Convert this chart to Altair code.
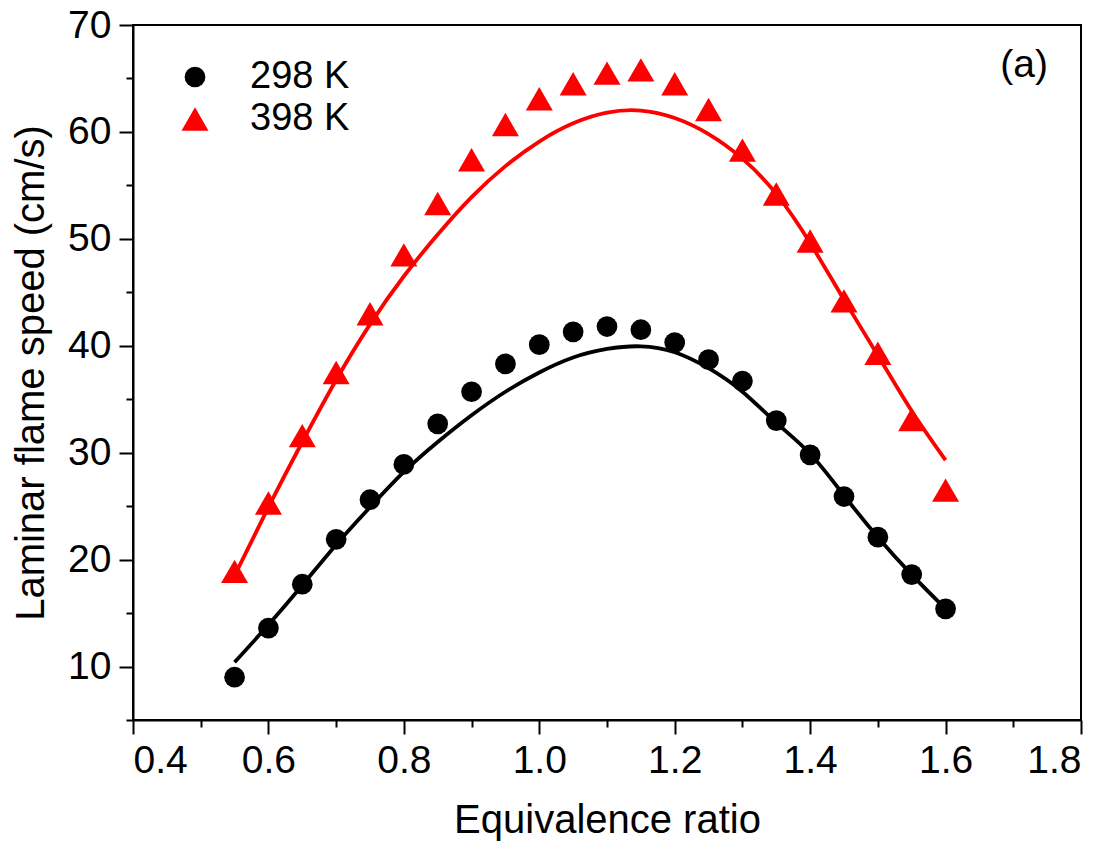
import altair as alt
import pandas as pd

# measured data points
phi = [0.55, 0.60, 0.65, 0.70, 0.75, 0.80, 0.85, 0.90, 0.95, 1.00, 1.05,
       1.10, 1.15, 1.20, 1.25, 1.30, 1.35, 1.40, 1.45, 1.50, 1.55, 1.60]
su_298 = [9.0, 13.6, 17.7, 21.9, 25.6, 28.9, 32.7, 35.7, 38.3, 40.1, 41.3,
          41.8, 41.5, 40.3, 38.7, 36.7, 33.0, 29.8, 25.9, 22.1, 18.6, 15.4]
su_398 = [18.9, 25.3, 31.6, 37.5, 43.0, 48.5, 53.3, 57.4, 60.7, 63.1, 64.5,
          65.5, 65.8, 64.5, 62.1, 58.3, 54.2, 49.8, 44.2, 39.3, 33.1, 26.5]

# fitted curves
fit_298 = [10.4, 13.9, 17.6, 21.4, 24.9, 28.2, 31.0, 33.5, 35.7, 37.5, 38.9,
           39.7, 39.95, 39.4, 37.9, 35.7, 32.8, 29.9, 26.0, 22.1, 18.6, 15.4]
fit_398 = [18.5, 24.9, 31.0, 36.8, 42.0, 46.5, 50.4, 53.9, 56.8, 59.1, 60.8,
           61.8, 62.0, 61.3, 59.8, 57.5, 54.2, 49.6, 44.3, 39.1, 33.9, 29.3]

series = ["298 K", "398 K"]
colors = ["#000000", "#ff0000"]
shapes = ["circle", "triangle-up"]
sizes = [430, 730]

ann_x = [1.716]
ann_y = [66.3]
ann_text = ["(a)"]

FONT = "Liberation Sans"

pts = pd.DataFrame({
    "phi": phi * 2,
    "su": su_298 + su_398,
    "series": [series[0]] * len(phi) + [series[1]] * len(phi),
})
fits = pd.DataFrame({
    "phi": phi * 2,
    "su": fit_298 + fit_398,
    "series": [series[0]] * len(phi) + [series[1]] * len(phi),
})
ann = pd.DataFrame({"x": ann_x, "y": ann_y, "t": ann_text})

xscale = alt.Scale(domain=[0.4, 1.8], nice=False, zero=False)
yscale = alt.Scale(domain=[5, 70], nice=False, zero=False)

xaxis = alt.Axis(
    title="Equivalence ratio",
    values=[round(0.4 + 0.1 * i, 1) for i in range(15)],
    labelExpr="(round(datum.value*10) % 2 == 0) ? format(datum.value, '.1f') : ''",
    tickSize={"condition": {"test": "round(datum.value*10) % 2 == 0", "value": 14}, "value": 7},
    grid=False,
    labelPadding=7,
    titlePadding=20,
)
yaxis = alt.Axis(
    title="Laminar flame speed (cm/s)",
    values=[5 * i for i in range(1, 15)],
    labelExpr="(datum.value % 10 == 0) ? format(datum.value, 'd') : ''",
    tickSize={"condition": {"test": "datum.value % 10 == 0", "value": 14}, "value": 7},
    grid=False,
    labelPadding=8,
    titlePadding=16,
)

leg = alt.Legend(orient="none", legendX=43, legendY=33, title=None)

lines = alt.Chart(fits).mark_line(strokeWidth=3.8, interpolate="natural").encode(
    x=alt.X("phi:Q", scale=xscale, axis=xaxis),
    y=alt.Y("su:Q", scale=yscale, axis=yaxis),
    stroke=alt.Stroke("series:N", scale=alt.Scale(domain=series, range=colors), legend=None),
    detail="series:N",
)

points = alt.Chart(pts).mark_point(filled=True, opacity=1).encode(
    x=alt.X("phi:Q", scale=xscale),
    y=alt.Y("su:Q", scale=yscale),
    color=alt.Color("series:N", scale=alt.Scale(domain=series, range=colors), legend=leg),
    shape=alt.Shape("series:N", scale=alt.Scale(domain=series, range=shapes), legend=leg),
    size=alt.Size("series:N", scale=alt.Scale(domain=series, range=sizes), legend=leg),
)

label = alt.Chart(ann).mark_text(font=FONT, fontSize=39, align="center", baseline="middle", color="black").encode(
    x=alt.X("x:Q", scale=xscale),
    y=alt.Y("y:Q", scale=yscale),
    text="t:N",
)

chart = alt.layer(points, lines, label).properties(
    width=948,
    height=695,
    autosize=alt.AutoSizeParams(type="none"),
    padding={"left": 125, "top": 17, "right": 20, "bottom": 128},
).configure_view(
    stroke="black", strokeWidth=2
).configure_axis(
    domainColor="black", domainWidth=2, tickColor="black", tickWidth=2,
    labelFont=FONT, labelFontSize=39, labelColor="black",
    titleFont=FONT, titleFontSize=40, titleColor="black", titleFontWeight="normal",
).configure_legend(
    padding=0,
    labelFont=FONT, labelFontSize=38, labelColor="black", labelOffset=36,
    rowPadding=4, symbolStrokeWidth=0,
)

chart.save("out.html", embed_options={"renderer": "svg", "actions": False})
